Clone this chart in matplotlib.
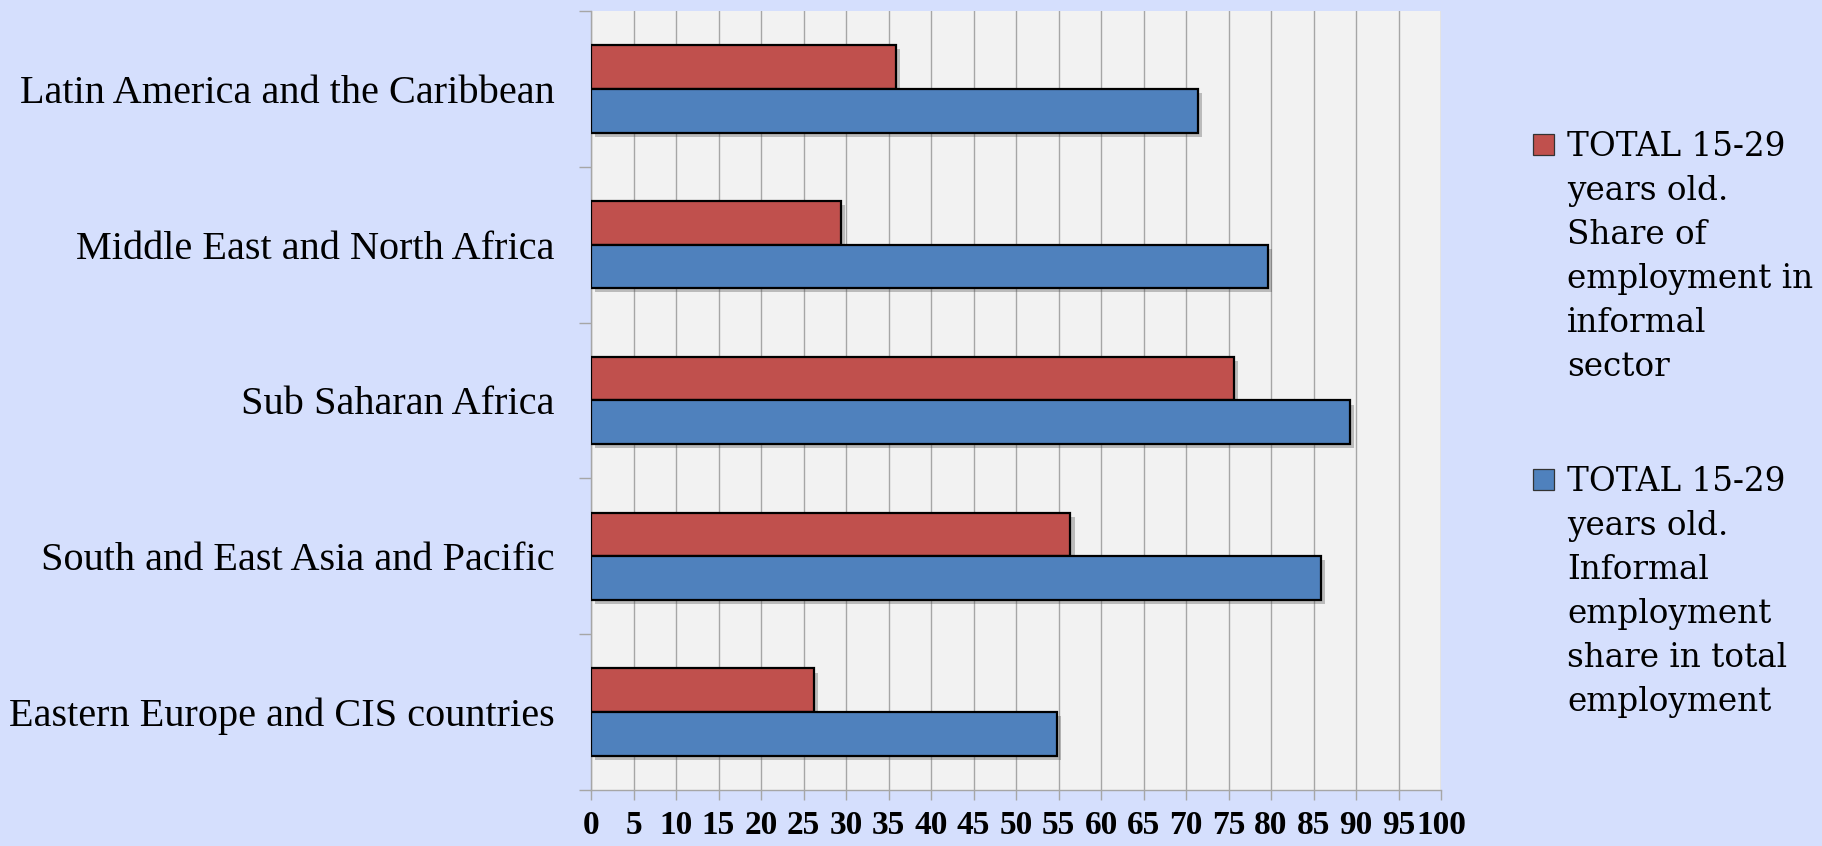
import matplotlib
matplotlib.use("Agg")
import matplotlib.pyplot as plt
import matplotlib.patheffects as pe
from matplotlib.patches import Rectangle
import numpy as np

# datos (de abajo hacia arriba)
regiones = [
    "Eastern Europe and CIS countries",
    "South and East Asia and Pacific",
    "Sub Saharan Africa",
    "Middle East and North Africa",
    "Latin America and the Caribbean",
]
sector_informal = [26.2, 56.4, 75.6, 29.4, 35.9]
empleo_informal = [54.8, 85.9, 89.3, 79.6, 71.4]

series = [
    "TOTAL 15-29\nyears old.\nShare of\nemployment in\ninformal\nsector",
    "TOTAL 15-29\nyears old.\nInformal\nemployment\nshare in total\nemployment",
]
colores = ["#c0504d", "#4f81bd"]
x_ticks = list(range(0, 101, 5))

fondo = "#d5dffd"
gris = "#a6a6a6"

fig = plt.figure(figsize=(18.22, 8.46), dpi=100, facecolor=fondo)
ax = fig.add_axes([591 / 1822, 56 / 846, 850 / 1822, 779 / 846])
ax.set_facecolor("#f2f2f2")

y = np.arange(len(regiones))
alto = 0.28
sombra = [pe.SimplePatchShadow(offset=(3, -3), shadow_rgbFace="#555555", alpha=0.35), pe.Normal()]

barras_r = ax.barh(y + alto / 2, sector_informal, height=alto, color=colores[0],
                   edgecolor="black", linewidth=1.6, zorder=3)
barras_b = ax.barh(y - alto / 2, empleo_informal, height=alto, color=colores[1],
                   edgecolor="black", linewidth=1.6, zorder=3)
for b in list(barras_r) + list(barras_b):
    b.set_path_effects(sombra)

ax.set_xlim(0, 100)
ax.set_ylim(-0.5, len(regiones) - 0.5)

# rejilla vertical
ax.set_xticks(x_ticks)
ax.xaxis.grid(True, color=gris, linewidth=1.0, zorder=0)
ax.set_axisbelow(True)
ax.tick_params(axis="x", direction="out", length=7.5, width=1.0, color=gris, pad=7)
for lbl in ax.get_xticklabels():
    lbl.set_fontfamily("Liberation Serif")
    lbl.set_fontweight("bold")
    lbl.set_fontsize(24)

# etiquetas de categorías
ax.set_yticks(y)
ax.set_yticklabels(regiones, fontfamily="Liberation Serif", fontsize=29)
ax.set_yticks(np.arange(len(regiones) + 1) - 0.5, minor=True)
ax.tick_params(axis="y", which="major", length=0, pad=26)
ax.tick_params(axis="y", which="minor", direction="out", length=9, width=1.0, color=gris)

for s in ["top", "right"]:
    ax.spines[s].set_visible(False)
for s in ["left", "bottom"]:
    ax.spines[s].set_color(gris)
    ax.spines[s].set_linewidth(1.0)

# leyenda manual (marcador alineado con la primera línea)
W, H = 1822, 846
for i, (nombre, col) in enumerate(zip(series, colores)):
    top = 132 + i * 335
    fig.patches.append(Rectangle((1533 / W, 1 - (top + 23) / H), 21 / W, 21 / H,
                                 transform=fig.transFigure, facecolor=col,
                                 edgecolor="#333333", linewidth=0.9))
    fig.text(1567 / W, 1 - (top - 1) / H, nombre, ha="left", va="top",
             fontfamily="DejaVu Serif", fontsize=23.5, linespacing=1.48)

fig.savefig("out.png", dpi=100, facecolor=fondo)
